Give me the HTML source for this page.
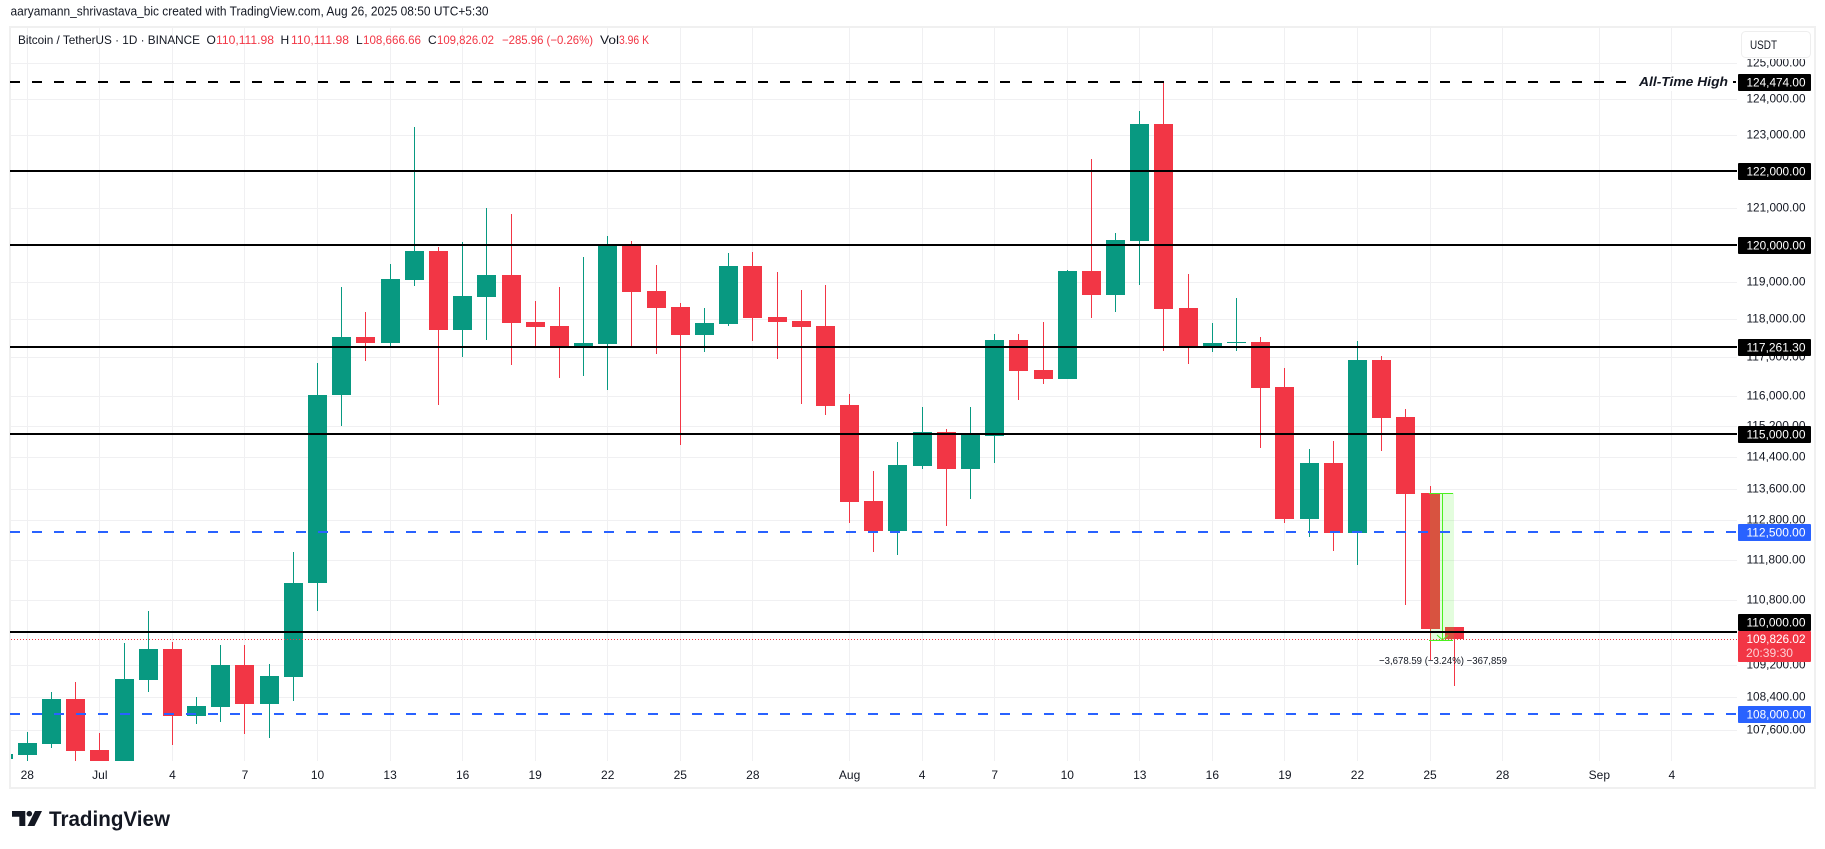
<!DOCTYPE html>
<html lang="en">
<head>
<meta charset="utf-8">
<title>Bitcoin / TetherUS 1D chart</title>
<style>
html,body{margin:0;padding:0;background:#fff;}
svg{display:block;font-family:"Liberation Sans",Arial,sans-serif;}
</style>
</head>
<body>
<svg id="chart" xmlns="http://www.w3.org/2000/svg" width="1825" height="849" viewBox="0 0 1825 849">
  <defs>
    <clipPath id="pane-clip"><rect x="11" y="28" width="1726" height="733"></rect></clipPath>
  </defs>
  <rect x="0" y="0" width="1825" height="849" fill="#ffffff"></rect>
  <text x="10.5" y="15.5" font-size="12.5" fill="#131722" textLength="478" lengthAdjust="spacingAndGlyphs">aaryamann_shrivastava_bic created with TradingView.com, Aug 26, 2025 08:50 UTC+5:30</text>
  <rect x="10" y="27" width="1805" height="761" fill="#ffffff" stroke="#f0f0f0" stroke-width="2"></rect>
  <g id="grid"></g>
  <g id="candles" clip-path="url(#pane-clip)"></g>
  <g id="measure" clip-path="url(#pane-clip)"></g>
  <g id="levels"></g>
  <rect x="1632" y="72" width="101" height="19" fill="#ffffff"></rect>
  <text x="1639" y="86" font-size="13" font-weight="bold" font-style="italic" fill="#131722" textLength="89" lengthAdjust="spacingAndGlyphs">All-Time High</text>
  <g id="y-axis"></g>
  <g id="x-axis"></g>
  <g id="level-tags"></g>
  <g>
    <rect x="1738" y="631" width="73" height="31" rx="1" fill="#f23645"></rect>
    <text x="1746.5" y="643" font-size="12" fill="#ffffff" textLength="59" lengthAdjust="spacingAndGlyphs">109,826.02</text>
    <text x="1746" y="657" font-size="12" fill="#fcd0d5" textLength="47" lengthAdjust="spacingAndGlyphs">20:39:30</text>
  </g>
  <g>
    <rect x="1741" y="31" width="70" height="28" fill="#ffffff"></rect>
    <rect x="1741.5" y="31.5" width="69" height="26" rx="4" fill="#ffffff" stroke="#eeeeee"></rect>
    <text x="1750" y="49" font-size="12" fill="#131722" textLength="27" lengthAdjust="spacingAndGlyphs">USDT</text>
  </g>
  <g font-size="12">
    <text x="18" y="44" fill="#131722" textLength="182" lengthAdjust="spacingAndGlyphs">Bitcoin / TetherUS · 1D · BINANCE</text>
    <text x="206.5" y="44" fill="#131722">O</text>
    <text x="216" y="44" fill="#f23645" textLength="58" lengthAdjust="spacingAndGlyphs">110,111.98</text>
    <text x="280.5" y="44" fill="#131722">H</text>
    <text x="291" y="44" fill="#f23645" textLength="58" lengthAdjust="spacingAndGlyphs">110,111.98</text>
    <text x="356" y="44" fill="#131722">L</text>
    <text x="363" y="44" fill="#f23645" textLength="58" lengthAdjust="spacingAndGlyphs">108,666.66</text>
    <text x="428" y="44" fill="#131722">C</text>
    <text x="437" y="44" fill="#f23645" textLength="57" lengthAdjust="spacingAndGlyphs">109,826.02</text>
    <text x="502" y="44" fill="#f23645" textLength="91" lengthAdjust="spacingAndGlyphs">−285.96 (−0.26%)</text>
    <text x="600" y="44" fill="#131722" textLength="19" lengthAdjust="spacingAndGlyphs">Vol</text>
    <text x="619" y="44" fill="#f23645" textLength="30" lengthAdjust="spacingAndGlyphs">3.96 K</text>
  </g>
  <g>
    <path d="M12 811H25.3V826H19.3V816.7H12Z" fill="#131722"></path>
    <circle cx="29.3" cy="813.7" r="2.8" fill="#131722"></circle>
    <path d="M35 811H42L34.5 826H27.5Z" fill="#131722"></path>
    <text x="49" y="826" font-size="21" font-weight="bold" fill="#131722" textLength="121" lengthAdjust="spacingAndGlyphs">TradingView</text>
  </g>
</svg>
<script>
// ---- chart data ----
const dates = ['Jun 27','Jun 28','Jun 29','Jun 30',
 'Jul 1','Jul 2','Jul 3','Jul 4','Jul 5','Jul 6','Jul 7','Jul 8','Jul 9','Jul 10','Jul 11','Jul 12','Jul 13','Jul 14','Jul 15','Jul 16',
 'Jul 17','Jul 18','Jul 19','Jul 20','Jul 21','Jul 22','Jul 23','Jul 24','Jul 25','Jul 26','Jul 27','Jul 28','Jul 29','Jul 30','Jul 31',
 'Aug 1','Aug 2','Aug 3','Aug 4','Aug 5','Aug 6','Aug 7','Aug 8','Aug 9','Aug 10','Aug 11','Aug 12','Aug 13','Aug 14','Aug 15','Aug 16',
 'Aug 17','Aug 18','Aug 19','Aug 20','Aug 21','Aug 22','Aug 23','Aug 24','Aug 25','Aug 26'];
const opens = [106910,107000,107270,108360,107120,106590,108820,109580,107950,108160,109190,108240,108900,111220,116020,117540,117380,119050,119830,117720,
 118600,119190,117940,117830,117270,117350,119980,118760,118330,117590,117880,119430,118060,117960,117830,115760,113290,112530,114180,115060,114110,
 114950,117460,116670,116440,119290,118650,120100,123300,118310,117300,117380,117410,116230,112830,114260,112480,116930,115450,113490,110111.98];
const highs = [107030,107560,108530,108770,107530,109730,110520,109750,108410,109680,109680,109210,112000,116850,118860,118200,119480,123210,119940,120070,
 120990,120830,118490,118860,119670,120230,120100,119450,118440,118310,119780,119800,119270,118780,118920,116040,114050,114800,115710,115140,115710,
 117620,117620,117940,119320,122330,120320,123660,124474,119210,117910,118570,117540,116720,114620,114820,117430,117040,115650,113670,110111.98];
const lows = [106910,106760,107170,106690,106400,106490,108530,107240,107750,107800,107510,107410,108310,110520,115210,116910,117270,118890,115760,117010,
 117460,116800,117270,116460,116510,116150,117300,117090,114720,117140,117830,117430,116960,115780,115500,112730,112000,111920,114110,112650,113340,
 114260,115890,116300,116440,118040,118200,118920,117170,116830,117140,117170,114640,112730,112370,112020,111670,114570,110670,109310,108666.66];
const closes = [107030,107290,108360,107100,106590,108850,109580,107950,108190,109190,108240,108920,111220,116020,117540,117380,119080,119830,117720,118620,
 119190,117910,117800,117270,117380,119980,118730,118310,117590,117910,119430,118040,117940,117800,115730,113260,112530,114210,115060,114110,114980,
 117460,116650,116440,119290,118650,120130,123300,118280,117300,117380,117410,116200,112830,114260,112480,116930,115420,113470,110080,109826.02];
const priceTicks = [125000,124000,123000,121000,119000,118000,117000,116000,115200,114400,113600,112800,111800,110800,109200,108400,107600];
const hiddenGridPrices = [122000,120000,110000];
const timeTickLabels = ['28','Jul','4','7','10','13','16','19','22','25','28','Aug','4','7','10','13','16','19','22','25','28','Sep','4'];
const timeTickDays = [1,4,7,10,13,16,19,22,25,28,31,35,38,41,44,47,50,53,56,59,62,66,69];
const levelPrices = [124474,122000,120000,117261.30,115000,112500,110000,108000];
const levelKinds = ['black-dashed','black','black','black','black','blue-dashed','black','blue-dashed'];
const lastPrice = 109826.02;
const measureHigh = 113504.61;
const measureStartDay = 59;
const measureEndDay = 60;
const measureText = '−3,678.59 (−3.24%) −367,859';

// ---- axis functions ----
function yScale(p){ return 713.7 - 4452 * Math.log(p / 108000); }
function xScale(i){ return 27.3 + (i - 1) * 24.185; }
function fmt(p){ return p.toLocaleString('en-US',{minimumFractionDigits:2,maximumFractionDigits:2}); }

const NS = 'http://www.w3.org/2000/svg';
function mk(parent, tag, attrs){
  const el = document.createElementNS(NS, tag);
  for (const k in attrs) el.setAttribute(k, attrs[k]);
  parent.appendChild(el);
  return el;
}
const UP = '#089981', DOWN = '#f23645';

// ---- grid ----
const grid = document.getElementById('grid');
priceTicks.concat(hiddenGridPrices).forEach(function(p){
  const yy = Math.round(yScale(p)) + 0.5;
  const el = mk(grid,'line',{x1:11,x2:1737,y1:yy,y2:yy,stroke:'#f0f0f2','stroke-width':1,'shape-rendering':'crispEdges'});
  
  
});
timeTickDays.forEach(function(d){
  const xx = Math.floor(xScale(d)) + 0.5;
  const el = mk(grid,'line',{x1:xx,x2:xx,y1:28,y2:761,stroke:'#f0f0f2','stroke-width':1,'shape-rendering':'crispEdges'});
  
  
});

// ---- candles ----
const candles = document.getElementById('candles');
dates.forEach(function(date, i){
  const color = closes[i] >= opens[i] ? UP : DOWN;
  const left = Math.round(xScale(i) - 9.5);
  const yHigh = Math.round(yScale(highs[i]));
  const yLow = Math.round(yScale(lows[i]));
  const yTop = Math.round(yScale(Math.max(opens[i], closes[i])));
  const yBot = Math.round(yScale(Math.min(opens[i], closes[i])));
  const wick = mk(candles,'rect',{x:left + 9,y:yHigh,width:1,height:Math.max(1,yLow - yHigh),fill:color,'shape-rendering':'crispEdges'});
  
  
  const body = mk(candles,'rect',{x:left,y:yTop,width:19,height:Math.max(1,yBot - yTop),fill:color,'shape-rendering':'crispEdges'});
  
  
  const tip = mk(body,'title',{});
  tip.textContent = date;
});

// ---- measure tool ----
const measure = document.getElementById('measure');
const mLeft = Math.round(xScale(measureStartDay));
const mRight = Math.round(xScale(measureEndDay));
const mTop = Math.round(yScale(measureHigh)) + 1;
const mBot = Math.round(yScale(lastPrice)) + 1;
const mMid = Math.floor((mLeft + mRight) / 2);
const GREEN = '#4bf01f';
const mFill = mk(measure,'rect',{x:mLeft,y:mTop,width:mRight - mLeft,height:mBot - mTop,fill:'rgba(76,245,37,0.157)','shape-rendering':'crispEdges'});


[mTop, mBot].forEach(function(yy){
  const ln = mk(measure,'rect',{x:mLeft - 1,y:yy,width:mRight - mLeft,height:1,fill:GREEN,'shape-rendering':'crispEdges'});
  
  
});
const mArrow = mk(measure,'rect',{x:mMid,y:mTop,width:1,height:mBot - mTop,fill:GREEN,'shape-rendering':'crispEdges'});


const mHead = mk(measure,'path',{d:'M' + (mMid - 5) + ' ' + (mBot - 5) + 'L' + (mMid + 0.5) + ' ' + mBot + 'L' + (mMid + 6) + ' ' + (mBot - 5),fill:'none',stroke:GREEN,'stroke-width':1});


const mLabel = mk(document.getElementById('chart'),'text',{x:1379,y:664,'font-size':10.5,fill:'#131722',textLength:128,lengthAdjust:'spacingAndGlyphs'});
mLabel.textContent = measureText;



// ---- horizontal levels ----
const levels = document.getElementById('levels');
const levelTags = document.getElementById('level-tags');
levelPrices.forEach(function(p, i){
  const kind = levelKinds[i];
  const yy = Math.round(yScale(p));
  const color = kind.indexOf('blue') === 0 ? '#2962ff' : '#000000';
  const attrs = {x1:10,x2:1737,y1:yy,y2:yy,stroke:color,'stroke-width':2,'shape-rendering':'crispEdges'};
  if (kind.indexOf('dashed') > 0) attrs['stroke-dasharray'] = '10 12';
  const ln = mk(levels,'line',attrs);
  
  
  const shift = p === 110000 ? -9.5 : 0;
  const tagY = Math.round(yy + shift - 8.5);
  const tag = mk(levelTags,'rect',{x:1738,y:tagY,width:73,height:17,rx:1,fill:color === '#000000' ? '#000000' : '#2962ff'});
  
  
  const txt = mk(levelTags,'text',{x:1746.5,y:tagY + 12.5,'font-size':12,fill:'#ffffff',textLength:59,lengthAdjust:'spacingAndGlyphs'});
  txt.textContent = fmt(p);
  
  
});
const dotted = mk(levels,'line',{x1:11,x2:1737,y1:Math.round(yScale(lastPrice)) + 0.5,y2:Math.round(yScale(lastPrice)) + 0.5,stroke:DOWN,'stroke-width':1,'stroke-dasharray':'1 2','shape-rendering':'crispEdges'});



// ---- axes ----
const yAxis = document.getElementById('y-axis');
priceTicks.forEach(function(p){
  const t = mk(yAxis,'text',{x:1746.5,y:Math.round(yScale(p)) + 3.5,'font-size':12,fill:'#131722',textLength:59,lengthAdjust:'spacingAndGlyphs'});
  t.textContent = fmt(p);
  
  
});
const xAxis = document.getElementById('x-axis');
timeTickLabels.forEach(function(label, i){
  const t = mk(xAxis,'text',{x:xScale(timeTickDays[i]),y:779,'font-size':12,fill:'#131722','text-anchor':'middle'});
  t.textContent = label;
  
  
});
</script>
</body>
</html>
